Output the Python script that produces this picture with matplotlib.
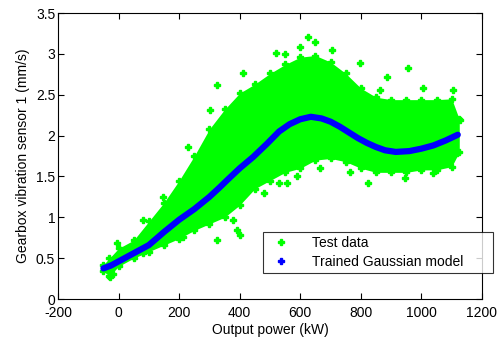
import matplotlib
matplotlib.use("Agg")
import matplotlib.pyplot as plt
from matplotlib.lines import Line2D

plt.rcParams['font.family'] = ['Liberation Sans', 'DejaVu Sans']
plt.rcParams['axes.unicode_minus'] = False

# dense body of the test data cloud (upper / lower edge)
body_x = [-50, -30, 0, 50, 100, 150, 200, 250, 300, 350, 400, 450, 500, 550,
          600, 650, 700, 750, 800, 850, 900, 950, 1000, 1050, 1100, 1125]
body_hi = [0.42, 0.50, 0.62, 0.72, 0.95, 1.18, 1.45, 1.75, 2.08, 2.32, 2.52,
           2.63, 2.76, 2.87, 2.96, 2.98, 2.90, 2.76, 2.58, 2.47, 2.44, 2.44,
           2.44, 2.44, 2.45, 2.20]
body_lo = [0.34, 0.28, 0.40, 0.50, 0.58, 0.66, 0.74, 0.84, 0.92, 1.00, 1.15,
           1.35, 1.45, 1.55, 1.60, 1.70, 1.72, 1.68, 1.60, 1.55, 1.55, 1.55,
           1.58, 1.58, 1.62, 1.80]

# stray test points outside the body
out_x = [324, 412, 521, 626, 650, 704, 797, 886, 956, 1005, 1104, 863, 230,
         148, 82, -6, 302, 550, 600, 324, 390, 379, 400, 213, 81, -28, -20,
         555, 588, 665, 764, 824, 946, 1039, 1117, 1127, 480, 530]
out_y = [2.62, 2.76, 3.01, 3.21, 3.15, 3.05, 2.89, 2.72, 2.83, 2.58, 2.56,
         2.56, 1.86, 1.25, 0.97, 0.68, 2.31, 3.00, 3.08, 0.72, 0.84, 0.97, 0.78,
         0.76, 0.56, 0.27, 0.30, 1.42, 1.50, 1.60, 1.55, 1.42, 1.48, 1.54, 1.79,
         2.19, 1.30, 1.42]

# trained Gaussian model
model_x = [-50, -25, 0, 35, 70, 100, 150, 200, 250, 300, 335, 360, 400, 445,
           490, 530, 565, 600, 635, 670, 700, 730, 760, 790, 820, 850, 880,
           915, 960, 1000, 1040, 1080, 1120]
model_y = [0.375, 0.41, 0.46, 0.53, 0.60, 0.66, 0.82, 0.97, 1.10, 1.25, 1.37,
           1.46, 1.60, 1.74, 1.90, 2.05, 2.14, 2.20, 2.23, 2.21, 2.17, 2.11,
           2.04, 1.97, 1.91, 1.86, 1.82, 1.80, 1.81, 1.84, 1.88, 1.94, 2.01]

green = '#00FF00'
blue = '#0000FF'

fig = plt.figure(figsize=(4.97, 3.46), dpi=100)
ax = fig.add_axes([0.1167, 0.1358, 0.8531, 0.8266])

ax.fill_between(body_x, body_lo, body_hi, color=green, lw=0)
ax.plot(body_x, body_hi, ls='', marker='P', ms=4, color=green)
ax.plot(body_x, body_lo, ls='', marker='P', ms=4, color=green)
ax.plot(out_x, out_y, ls='', marker='P', ms=4, color=green)
ax.plot(model_x, model_y, color=blue, lw=4.5, solid_capstyle='round',
        solid_joinstyle='round')

ax.set_xlim(-200, 1200)
ax.set_ylim(0, 3.5)
ax.set_xticks(range(-200, 1201, 200))
ax.set_yticks([0, 0.5, 1, 1.5, 2, 2.5, 3, 3.5])
ax.set_yticklabels(['0', '0.5', '1', '1.5', '2', '2.5', '3', '3.5'])
ax.tick_params(direction='in', length=4, top=True, right=True, labelsize=10)
ax.tick_params(axis='x', pad=5)
ax.tick_params(axis='y', pad=2)
for s in ax.spines.values():
    s.set_linewidth(0.8)
ax.set_xlabel('Output power (kW)', fontsize=10, labelpad=2)
ax.set_ylabel('Gearbox vibration sensor 1 (mm/s)', fontsize=10, labelpad=4)

handles = [Line2D([], [], ls='', marker='P', ms=4, color=green),
           Line2D([], [], ls='', marker='P', ms=4, color=blue)]
leg = ax.legend(handles, ['Test data', 'Trained Gaussian model'],
                loc='lower left', bbox_to_anchor=(0.529, 0.211, 0.463, 0.142),
                bbox_transform=fig.transFigure, mode='expand', borderaxespad=0,
                fancybox=False, edgecolor='black', fontsize=10,
                handletextpad=1.2, labelspacing=0.35, borderpad=0.3)
leg.get_frame().set_linewidth(0.8)

fig.savefig('out.png', dpi=100)
